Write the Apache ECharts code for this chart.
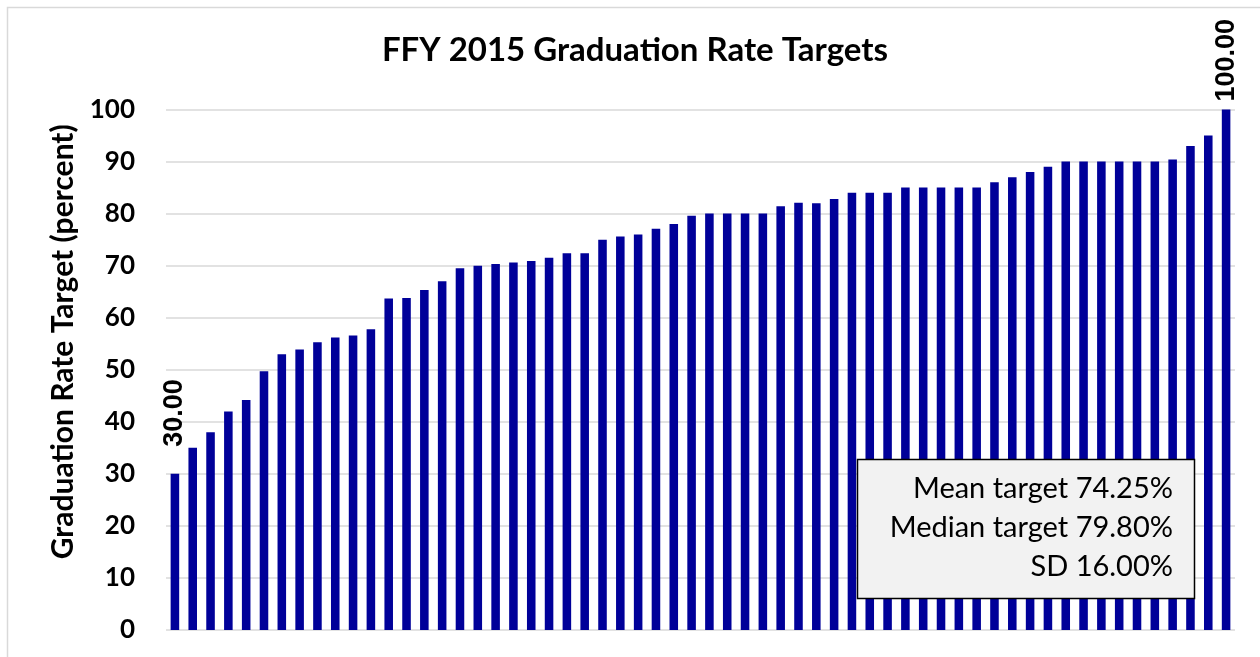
<!DOCTYPE html>
<html>
<head>
<meta charset="utf-8">
<script src="https://cdn.jsdelivr.net/npm/echarts@6/dist/echarts.min.js"></script>
<style>
html,body{margin:0;padding:0;background:#fff;}
#chart{width:1260px;height:657px;}
</style>
</head>
<body>
<div id="chart"></div>
<script>
var titleText = "FFY 2015 Graduation Rate Targets";
var yAxisName = "Graduation Rate Target (percent)";
var yTicks = [0, 10, 20, 30, 40, 50, 60, 70, 80, 90, 100];
var targets = [
  30, 35, 38, 42, 44.2, 49.7, 53, 53.9, 55.3, 56.2,
  56.6, 57.8, 63.7, 63.8, 65.3, 67, 69.5, 70, 70.3, 70.6,
  70.9, 71.5, 72.4, 72.4, 75, 75.6, 76, 77.1, 78, 79.6,
  80, 80, 80, 80, 81.4, 82.1, 82, 82.8, 84, 84,
  84, 85, 85, 85, 85, 85, 86, 87, 88, 89,
  90, 90, 90, 90, 90, 90, 90.4, 93, 95, 100
];
var categories = targets.map(function (v, i) { return String(i + 1); });
var statLines = ["Mean target 74.25%", "Median target 79.80%", "SD 16.00%"];

var chart = echarts.init(document.getElementById('chart'));

var seriesData = targets.map(function (v, i) {
  var item = { value: v };
  if (i === 0 || i === targets.length - 1) {
    item.label = {
      show: true,
      position: 'top',
      rotate: 90,
      align: 'left',
      verticalAlign: 'middle',
      distance: i === 0 ? 27 : 8,
      formatter: function (p) { return p.value.toFixed(2); },
      fontFamily: 'Liberation Sans',
      fontWeight: 'bold',
      fontSize: 27,
      color: '#000'
    };
  }
  return item;
});

var statGraphics = [{
  type: 'rect',
  shape: { x: 857.5, y: 459.5, width: 337, height: 139 },
  style: { fill: '#f2f2f2', stroke: '#000', lineWidth: 1.5 },
  z: 100
}];
statLines.forEach(function (t, i) {
  statGraphics.push({
    type: 'text',
    x: 1173,
    y: 474 + i * 39,
    style: {
      text: t,
      fontFamily: 'Lato',
      fontSize: 29,
      fill: '#000',
      align: 'right',
      verticalAlign: 'top'
    },
    z: 101
  });
});

var option = {
  backgroundColor: '#fff',
  animation: false,
  title: {
    text: titleText,
    left: 635,
    textAlign: 'center',
    top: 34,
    padding: 0,
    textStyle: { fontFamily: 'Lato', fontWeight: 'bold', fontSize: 33, color: '#000' }
  },
  grid: { left: 166, right: 25, top: 109.5, bottom: 27, containLabel: false },
  xAxis: {
    type: 'category',
    data: categories,
    axisLine: { show: false },
    axisTick: { show: false },
    axisLabel: { show: false },
    splitLine: { show: false }
  },
  yAxis: {
    type: 'value',
    min: yTicks[0],
    max: yTicks[yTicks.length - 1],
    interval: 10,
    name: yAxisName,
    nameLocation: 'middle',
    nameRotate: 90,
    nameGap: 88,
    nameTextStyle: { fontFamily: 'Lato', fontWeight: 'bold', fontSize: 30, color: '#000', padding: [0, 0, 0, 56] },
    axisLine: { show: false },
    axisTick: { show: false },
    axisLabel: { fontFamily: 'Lato', fontWeight: 'bold', fontSize: 26, color: '#000', margin: 31 },
    splitLine: { lineStyle: { color: '#d9d9d9', width: 1.5 } }
  },
  series: [{
    type: 'bar',
    data: seriesData,
    barWidth: '48%',
    itemStyle: { color: '#000099' },
    label: { show: false }
  }],
  graphic: [{
    type: 'rect',
    shape: { x: 7.5, y: 7.5, width: 1300, height: 700 },
    style: { fill: 'none', stroke: '#d9d9d9', lineWidth: 1.5 },
    silent: true
  }].concat(statGraphics)
};

chart.setOption(option);
</script>
</body>
</html>
